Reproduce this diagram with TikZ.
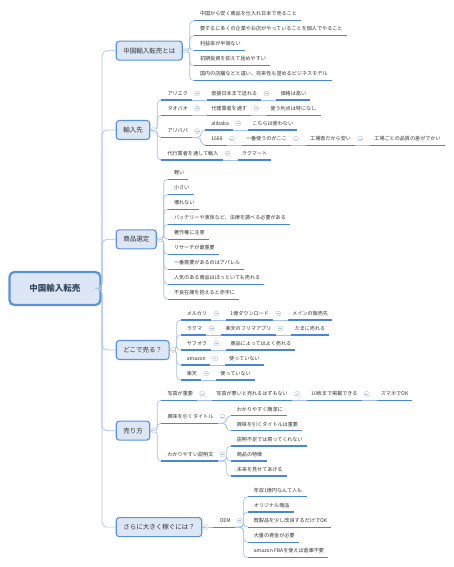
\documentclass[tikz,border=0pt]{standalone}
\usepackage{fontspec}
\setmainfont{Noto Sans CJK JP}
\definecolor{conn}{HTML}{A3C1EA}
\definecolor{ulc}{HTML}{4A86D6}
\definecolor{boxfill}{HTML}{DCE6F4}
\definecolor{boxdraw}{HTML}{5A93DA}
\definecolor{txt}{HTML}{333333}
\definecolor{roottxt}{HTML}{34475C}
\definecolor{colc}{HTML}{B3C3D9}
\begin{document}
\begin{tikzpicture}[x=1pt,y=-1pt,
 leaf/.style={inner sep=0pt, anchor=south west, text depth=4.5pt, text height=5pt,
   font=\fontsize{5.1}{6}\selectfont, text=txt, execute at end node={\hspace*{4pt}}},
 lv/.style={leaf, execute at begin node={\hspace*{6pt}}},
 lc/.style={leaf, execute at begin node={\hspace*{4pt}}},
 mainbox/.style={draw=boxdraw, fill=boxfill, line width=1.1pt, rounded corners=3pt,
   minimum height=19pt, inner xsep=7pt, inner ysep=0pt, anchor=west,
   font=\fontsize{6.5}{8}\selectfont, text=txt},
 rootbox/.style={draw=boxdraw, fill=boxfill, line width=2.2pt, rounded corners=5pt,
   minimum width=91pt, minimum height=33pt, anchor=west,
   font=\fontsize{8.5}{10}\selectfont\bfseries, text=roottxt},
 cn/.style={draw=conn, line width=0.7pt, rounded corners=4pt},
 ul/.style={draw=ulc, line width=1.2pt},
 col/.style={circle, draw=colc, fill=white, line width=0.4pt, minimum size=5pt, inner sep=0pt,
   path picture={\draw[colc, line width=0.4pt] ([xshift=-1.4pt]path picture bounding box.center) -- ([xshift=1.4pt]path picture bounding box.center);}}
]
\useasboundingbox (0,0) rectangle (453,567);
% root and main topics
\node[rootbox] (root) at (8.3,288.5) {中国輸入転売};
\node[mainbox] (m1) at (115.7,50.7) {中国輸入転売とは};
\node[mainbox] (m2) at (115.7,130) {輸入先};
\node[mainbox] (m3) at (115.7,239.3) {商品選定};
\node[mainbox] (m4) at (115.7,350) {どこで売る？};
\node[mainbox] (m5) at (115.7,430.65) {売り方};
\node[mainbox] (m6) at (115.7,527.1) {さらに大きく稼ぐには？};
\path ([xshift=11pt]m1.east) coordinate (x1) ([xshift=11pt]m2.east) coordinate (x2)
      ([xshift=11pt]m3.east) coordinate (x3) ([xshift=11pt]m4.east) coordinate (x4)
      ([xshift=11pt]m5.east) coordinate (x5) ([xshift=11pt]m6.east) coordinate (x6);
% m1
\node[lv] (a1) at (x1 |- 0,20.7) {中国から安く商品を仕入れ日本で売ること};
\node[lv] (a2) at (x1 |- 0,35.7) {要するに多くの企業やお店がやっていることを個人でやること};
\node[lv] (a3) at (x1 |- 0,50.7) {利益率が半端ない};
\node[lv] (a4) at (x1 |- 0,65.7) {初期投資を抑えて始めやすい};
\node[lv] (a5) at (x1 |- 0,80.7) {国内の店舗などと違い、将来性も望めるビジネスモデル};
% m2
\node[lv] (b1) at (x2 |- 0,100) {アリエク};
\node[lc] (b1a) at ([xshift=15pt]b1.south east) {直接日本まで送れる};
\node[lc] (b1b) at ([xshift=15pt]b1a.south east) {価格は高い};
\node[lv] (b2) at (x2 |- 0,115.2) {タオバオ};
\node[lc] (b2a) at ([xshift=15pt]b2.south east) {代理業者を通す};
\node[lc] (b2b) at ([xshift=15pt]b2a.south east) {使う利点は特になし};
\node[lv] (b3) at (x2 |- 0,137.6) {アリババ};
\path ([xshift=13pt]b3.south east) coordinate (y3);
\node[lv] (b3a) at (y3 |- 0,130) {alibaba};
\node[lc] (b3a1) at ([xshift=15pt]b3a.south east) {こちらは使わない};
\node[lv] (b3b) at (y3 |- 0,145.2) {1688};
\node[lc] (b3b1) at ([xshift=15pt]b3b.south east) {一番使うのがここ};
\node[lc] (b3b2) at ([xshift=15pt]b3b1.south east) {工場直だから安い};
\node[lc] (b3b3) at ([xshift=15pt]b3b2.south east) {工場ごとの品質の差がでかい};
\node[lv] (b4) at (x2 |- 0,160) {代行業者を通して輸入};
\node[lc] (b4a) at ([xshift=15pt]b4.south east) {ラクマート};
% m3
\node[lv] (c1) at (x3 |- 0,179.3) {軽い};
\node[lv] (c2) at (x3 |- 0,194.3) {小さい};
\node[lv] (c3) at (x3 |- 0,209.3) {壊れない};
\node[lv] (c4) at (x3 |- 0,224.3) {バッテリーや液体など、法律を調べる必要がある};
\node[lv] (c5) at (x3 |- 0,239.3) {著作権に注意};
\node[lv] (c6) at (x3 |- 0,254.3) {リサーチが最重要};
\node[lv] (c7) at (x3 |- 0,269.3) {一番需要があるのはアパレル};
\node[lv] (c8) at (x3 |- 0,284.3) {人気のある商品はほっといても売れる};
\node[lv] (c9) at (x3 |- 0,299.3) {不良在庫を抱えると赤字に};
% m4
\node[lv] (d1) at (x4 |- 0,320) {メルカリ};
\node[lc] (d1a) at ([xshift=15pt]d1.south east) {1億ダウンロード};
\node[lc] (d1b) at ([xshift=15pt]d1a.south east) {メインの販売先};
\node[lv] (d2) at (x4 |- 0,335) {ラクマ};
\node[lc] (d2a) at ([xshift=15pt]d2.south east) {楽天のフリマアプリ};
\node[lc] (d2b) at ([xshift=15pt]d2a.south east) {たまに売れる};
\node[lv] (d3) at (x4 |- 0,350) {ヤフオク};
\node[lc] (d3a) at ([xshift=15pt]d3.south east) {商品によってはよく売れる};
\node[lv] (d4) at (x4 |- 0,365) {amazon};
\node[lc] (d4a) at ([xshift=15pt]d4.south east) {使っていない};
\node[lv] (d5) at (x4 |- 0,380) {楽天};
\node[lc] (d5a) at ([xshift=15pt]d5.south east) {使っていない};
% m5
\node[lv] (e1) at (x5 |- 0,400.3) {写真が重要};
\node[lc] (e1a) at ([xshift=15pt]e1.south east) {写真が悪いと売れるはずもない};
\node[lc] (e1b) at ([xshift=15pt]e1a.south east) {10枚まで掲載できる};
\node[lc] (e1c) at ([xshift=15pt]e1b.south east) {スマホでOK};
\node[lv] (e2) at (x5 |- 0,423.2) {興味を引くタイトル};
\path ([xshift=13pt]e2.south east) coordinate (y5);
\node[lv] (e2a) at (y5 |- 0,415.7) {わかりやすく簡潔に};
\node[lv] (e2b) at (y5 |- 0,430.7) {興味を引くタイトルは重要};
\node[lv] (e3) at (x5 |- 0,461) {わかりやすい説明文};
\path ([xshift=13pt]e3.south east) coordinate (y6);
\node[lv] (e3a) at (y6 |- 0,446) {説明不足では買ってくれない};
\node[lv] (e3b) at (y6 |- 0,461) {商品の特徴};
\node[lv] (e3c) at (y6 |- 0,476) {未来を見せてあげる};
% m6
\node[lv] (f1) at (x6 |- 0,527.1) {OEM};
\path ([xshift=13pt]f1.south east) coordinate (y7);
\node[lv] (g1) at (y7 |- 0,496.7) {年収1億円なんて人も};
\node[lv] (g2) at (y7 |- 0,511.9) {オリジナル商品};
\node[lv] (g3) at (y7 |- 0,527.1) {既製品を少し改良するだけでOK};
\node[lv] (g4) at (y7 |- 0,542.3) {大量の資金が必要};
\node[lv] (g5) at (y7 |- 0,557.5) {amazon FBAを使えば倉庫不要};

% spine
\foreach \m in {m1,m2,m3,m4,m5,m6}
  \draw[cn, rounded corners=5pt] (root.east) -- (102,288.5) |- (\m.west);
% box parent -> children
\foreach \c in {a1,a2,a3,a4,a5} \draw[cn] (m1.east) -- ++(7,0) |- (\c.south west);
\foreach \c in {b1,b2,b3,b4} \draw[cn] (m2.east) -- ++(7,0) |- (\c.south west);
\foreach \c in {c1,c2,c3,c4,c5,c6,c7,c8,c9} \draw[cn] (m3.east) -- ++(7,0) |- (\c.south west);
\foreach \c in {d1,d2,d3,d4,d5} \draw[cn] (m4.east) -- ++(7,0) |- (\c.south west);
\foreach \c in {e1,e2,e3} \draw[cn] (m5.east) -- ++(7,0) |- (\c.south west);
\draw[cn] (m6.east) -- (f1.south west);
% leaf parent -> sub vertical
\foreach \c in {b3a,b3b} \draw[cn] (b3.south east) -- ++(9,0) |- (\c.south west);
\foreach \c in {e2a,e2b} \draw[cn] (e2.south east) -- ++(9,0) |- (\c.south west);
\foreach \c in {e3a,e3b,e3c} \draw[cn] (e3.south east) -- ++(9,0) |- (\c.south west);
\foreach \c in {g1,g2,g3,g4,g5} \draw[cn] (f1.south east) -- ++(9,0) |- (\c.south west);
% chains
\foreach \p/\c in {b1/b1a,b1a/b1b,b2/b2a,b2a/b2b,b3a/b3a1,b3b/b3b1,b3b1/b3b2,b3b2/b3b3,b4/b4a,
  d1/d1a,d1a/d1b,d2/d2a,d2a/d2b,d3/d3a,d4/d4a,d5/d5a,e1/e1a,e1a/e1b,e1b/e1c}
  \draw[cn] (\p.south east) -- (\c.south west);
% underlines
\foreach \n in {a1,a2,a3,a4,a5,b1,b1a,b1b,b2,b2a,b2b,b3,b3a,b3a1,b3b,b3b1,b3b2,b3b3,b4,b4a,
  c1,c2,c3,c4,c5,c6,c7,c8,c9,d1,d1a,d1b,d2,d2a,d2b,d3,d3a,d4,d4a,d5,d5a,
  e1,e1a,e1b,e1c,e2,e2a,e2b,e3,e3a,e3b,e3c,f1,g1,g2,g3,g4,g5}
  \draw[ul] (\n.south west) -- (\n.south east);
% collapse buttons
\foreach \m in {m1,m2,m3,m4,m5,m6} \node[col] at ([xshift=3.5pt]\m.east) {};
\foreach \n in {b1,b1a,b2,b2a,b3,b3a,b3b,b3b1,b3b2,b4,d1,d1a,d2,d2a,d3,d4,d5,e1,e1a,e1b,e2,e3,f1}
  \node[col] at ([xshift=5pt,yshift=6.5pt]\n.south east) {};
\end{tikzpicture}
\end{document}
